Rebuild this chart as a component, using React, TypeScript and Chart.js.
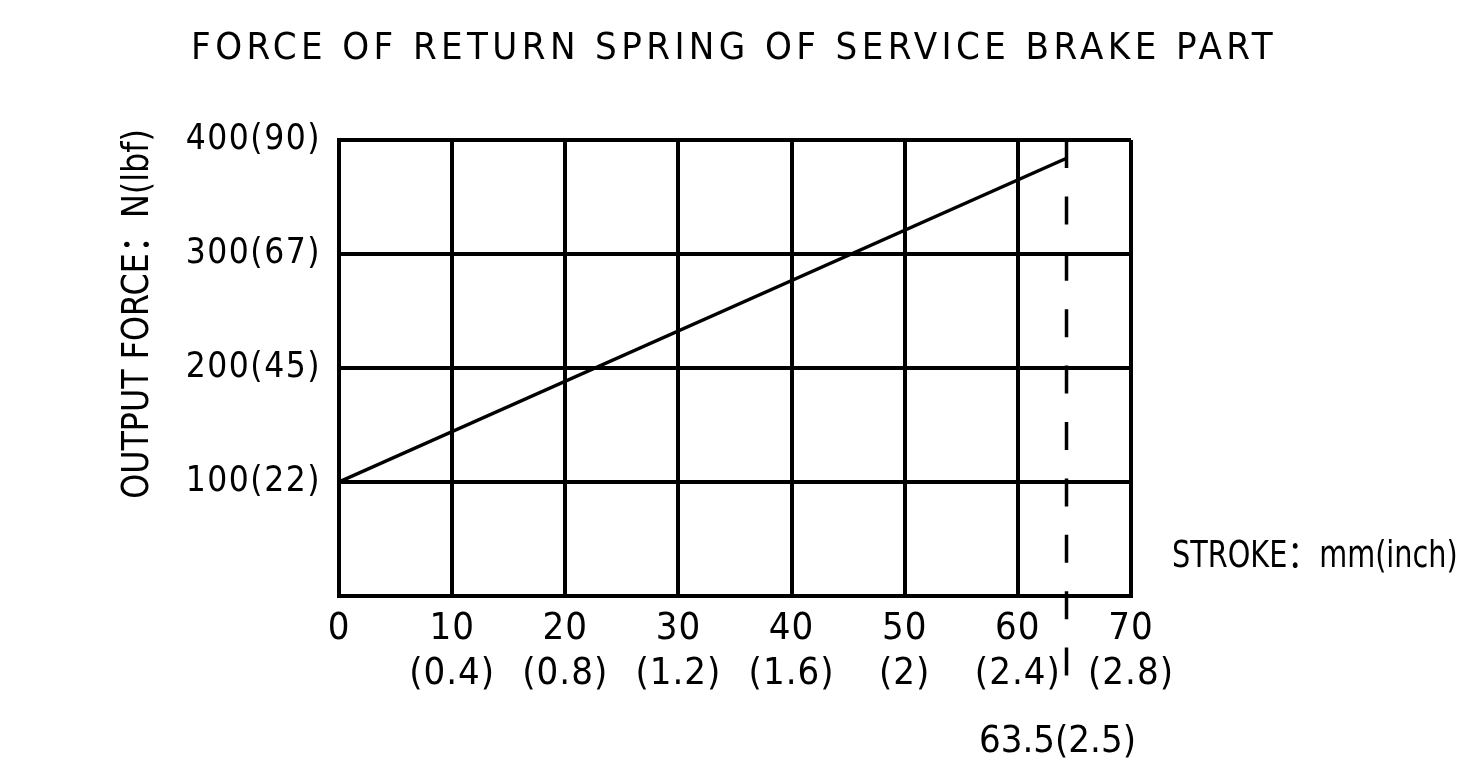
import React, { useEffect, useRef } from 'react';
import { Chart, registerables } from 'chart.js';

Chart.register(...registerables);

// ---- data ----
const TITLE = 'FORCE OF RETURN SPRING OF SERVICE BRAKE PART';
const Y_TITLE = 'OUTPUT FORCE：N(lbf)';
const X_TITLE = 'STROKE：mm(inch)';
const xTicksMm = [0, 10, 20, 30, 40, 50, 60, 70];
const xTicksInch = ['', '0.4', '0.8', '1.2', '1.6', '2', '2.4', '2.8'];
const yTicksN = [0, 100, 200, 300, 400];
const yTicksLbf = ['', '22', '45', '67', '90'];
const strokeMm = [0, 64.3];
const forceN = [100, 384];
const limitStrokeMm = 64.3;
const limitLabelMm = 63.5;
const limitLabel = '63.5(2.5)';
const limitRangeN = [400, -71];

const FONT = "'Liberation Sans Narrow', 'DejaVu Sans Condensed', 'Noto Sans CJK SC', sans-serif";
const W = 1464;
const H = 764;

const spacingPlugin = {
  id: 'labelSpacing',
  beforeDraw(chart: any) {
    const spec: [string, string][] = [['x', '1px'], ['y', '1.5px']];
    for (const [id, sp] of spec) {
      const s: any = chart.scales[id];
      if (s && !s.__patched) {
        const orig = s.drawLabels;
        s.drawLabels = function (area: any) {
          const c = this.ctx;
          const prev = c.letterSpacing;
          c.letterSpacing = sp;
          orig.call(this, area);
          c.letterSpacing = prev;
        };
        s.__patched = true;
      }
    }
  },
};

const textPlugin = {
  id: 'extraText',
  afterDraw(chart: any) {
    const ctx = chart.ctx;
    ctx.save();
    ctx.fillStyle = '#000';
    // title
    ctx.font = `38px ${FONT}`;
    ctx.letterSpacing = '4.4px';
    ctx.textAlign = 'center';
    ctx.textBaseline = 'alphabetic';
    ctx.fillText(TITLE, W / 2 + 2, 59);
    // y title
    ctx.letterSpacing = '0px';
    ctx.save();
    ctx.translate(148, 314);
    ctx.rotate(-Math.PI / 2);
    ctx.scale(0.93, 1);
    ctx.textAlign = 'center';
    ctx.fillText(Y_TITLE, 0, 0);
    ctx.restore();
    // x title
    ctx.save();
    ctx.translate(1172, 567);
    ctx.scale(0.84, 1);
    ctx.textAlign = 'left';
    ctx.fillText(X_TITLE, 0, 0);
    ctx.restore();
    // limit label
    ctx.letterSpacing = '0px';
    ctx.textAlign = 'center';
    const lx = chart.scales.x.getPixelForValue(limitLabelMm);
    ctx.fillText(limitLabel, lx, 752);
    ctx.restore();
  },
};

export default function App() {
  const ref = useRef<HTMLCanvasElement>(null);
  useEffect(() => {
    if (!ref.current) return;
    const chart = new Chart(ref.current, {
      type: 'line',
      data: {
        datasets: [
          {
            data: strokeMm.map((x, i) => ({ x, y: forceN[i] })),
            borderColor: '#000',
            borderWidth: 3.5,
            pointRadius: 0,
            fill: false,
          },
          {
            data: limitRangeN.map((y) => ({ x: limitStrokeMm, y })),
            borderColor: '#000',
            borderWidth: 3.5,
            borderDash: [28, 28.4],
            pointRadius: 0,
            fill: false,
            clip: false as any,
          },
        ],
      },
      options: {
        animation: false,
        responsive: false,
        layout: { padding: { left: 0, right: W - 1131, top: 140, bottom: 0 } },
        plugins: { legend: { display: false }, title: { display: false }, tooltip: { enabled: false } },
        scales: {
          x: {
            type: 'linear',
            min: xTicksMm[0],
            max: xTicksMm[xTicksMm.length - 1],
            afterBuildTicks: (s: any) => {
              s.ticks = xTicksMm.map((v) => ({ value: v }));
            },
            afterFit: (s: any) => {
              s.height = H - 596;
            },
            ticks: {
              color: '#000',
              font: { family: FONT, size: 38, lineHeight: 45.5 / 38 },
              padding: 10,
              maxRotation: 0,
              autoSkip: false,
              callback: (v: any) => {
                const i = xTicksMm.indexOf(Number(v));
                const inch = i >= 0 ? xTicksInch[i] : '';
                return inch ? [String(v), `(${inch})`] : String(v);
              },
            },
            grid: { color: '#000', lineWidth: 4, drawTicks: false },
            border: { color: '#000', width: 4 },
          },
          y: {
            type: 'linear',
            min: yTicksN[0],
            max: yTicksN[yTicksN.length - 1],
            afterBuildTicks: (s: any) => {
              s.ticks = yTicksN.map((v) => ({ value: v }));
            },
            afterFit: (s: any) => {
              s.width = 339;
            },
            ticks: {
              color: '#000',
              font: { family: FONT, size: 35 },
              padding: 18,
              callback: (v: any) => {
                const i = yTicksN.indexOf(Number(v));
                return i > 0 ? `${v}(${yTicksLbf[i]})` : '';
              },
            },
            grid: { color: '#000', lineWidth: 4, drawTicks: false },
            border: { color: '#000', width: 4 },
          },
        },
      },
      plugins: [spacingPlugin, textPlugin],
    });
    return () => chart.destroy();
  }, []);
  return (
    <div style={{ position: 'absolute', left: 0, top: 0, width: W, height: H, background: '#fff' }}>
      <canvas ref={ref} width={W} height={H} style={{ display: 'block' }} />
    </div>
  );
}
